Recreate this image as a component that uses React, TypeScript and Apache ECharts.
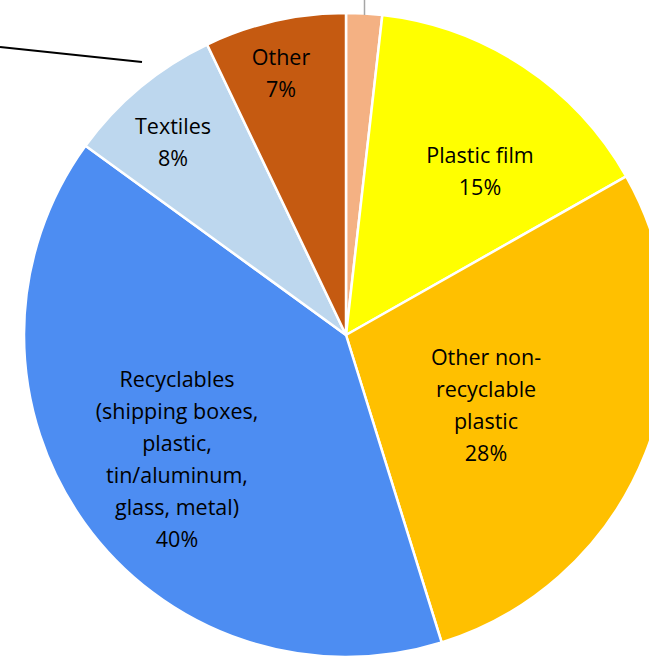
import React, { useEffect, useRef } from "react";
import * as echarts from "echarts";

const categories = [
  "Food waste",
  "Plastic film",
  "Other non-\nrecyclable\nplastic",
  "Recyclables\n(shipping boxes,\nplastic,\ntin/aluminum,\nglass, metal)",
  "Textiles",
  "Other",
];
const values = [1.8, 15.0, 28.4, 39.8, 7.9, 7.1];
const colors = ["#F4B183", "#FFFF00", "#FFC000", "#4D8DF2", "#BDD7EE", "#C55A11"];
const labelCenters: (number[] | null)[] = [
  null,
  [480, 170],
  [486, 404],
  [177, 458],
  [173, 141],
  [281, 72],
];

export default function App() {
  const ref = useRef<HTMLDivElement>(null);
  useEffect(() => {
    if (!ref.current) return;
    const chart = echarts.init(ref.current, undefined, { renderer: "svg" });
    chart.setOption({
      animation: false,
      backgroundColor: "#ffffff",
      graphic: [
        {
          type: "line",
          shape: { x1: 0, y1: 47, x2: 142, y2: 62 },
          style: { stroke: "#000000", lineWidth: 2 },
          z: 10,
        },
        {
          type: "line",
          shape: { x1: 364.5, y1: 0, x2: 364.5, y2: 15 },
          style: { stroke: "#A6A6A6", lineWidth: 1.5 },
          z: 10,
        },
      ],
      series: [
        {
          type: "pie",
          center: [346, 335],
          radius: [0, 322],
          startAngle: 90,
          clockwise: true,
          percentPrecision: 0,
          avoidLabelOverlap: false,
          itemStyle: { borderColor: "#ffffff", borderWidth: 2.5 },
          label: {
            show: true,
            position: "inside",
            formatter: "{b}\n{d}%",
            fontFamily: "Open Sans",
            fontSize: 21.5,
            lineHeight: 32,
            color: "#000000",
            align: "center",
            verticalAlign: "middle",
          },
          labelLine: { show: false },
          labelLayout: (p: any) => {
            const c = labelCenters[p.dataIndex];
            if (!c) return {};
            return { x: c[0], y: c[1], align: "center", verticalAlign: "middle" };
          },
          data: categories.map((name, i) => ({
            name,
            value: values[i],
            itemStyle: { color: colors[i] },
            label: i === 0 ? { show: false } : undefined,
          })),
        },
      ],
    });
    return () => chart.dispose();
  }, []);
  return (
    <div
      ref={ref}
      style={{ position: "fixed", left: 0, top: 0, width: 649, height: 668 }}
    />
  );
}
